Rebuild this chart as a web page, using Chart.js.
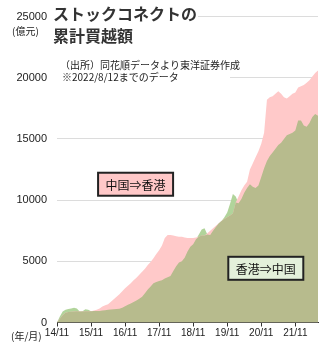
<!DOCTYPE html>
<html>
<head>
<meta charset="utf-8">
<script src="https://cdn.jsdelivr.net/npm/chart.js@4/dist/chart.umd.min.js"></script>
<style>
  html, body { margin: 0; padding: 0; background: #fff; }
  canvas { display: block; }
</style>
</head>
<body>
<canvas id="chart" width="327" height="347"></canvas>
<script>
// x = months since 2014/11, one tick per year
const xTickLabels = ["14/11", "15/11", "16/11", "17/11", "18/11", "19/11", "20/11", "21/11"];

// 中国⇒香港 (southbound), 億元, monthly
const southbound = [
  0, 300, 600, 800, 850, 880, 900, 920, 900, 900, 910, 920,
  920, 980, 1050, 1150, 1300, 1400, 1500, 1700, 1900, 2100, 2300, 2550,
  2800, 3000, 3200, 3450, 3650, 3900, 4150, 4400, 4700, 4950, 5250, 5600,
  5900, 6300, 6900, 7150, 7150, 7100, 7050, 7000, 7000, 6950, 6900, 6900,
  6900, 6950, 7000, 7100, 7100, 7300, 7500, 7700, 7900, 8100, 8300, 8450,
  8600, 8750, 8900, 9800, 10300, 10800, 11200, 11500, 12500, 13000, 13500, 14000,
  14600, 15500, 18200, 18400, 18500, 18700, 18900, 18700, 18400, 18300, 18500, 18700,
  18800, 19200, 19300, 19400, 19600, 19800, 20100, 20400, 20600
];

// 香港⇒中国 (northbound), 億元, monthly
const northbound = [
  0, 500, 900, 1050, 1100, 1150, 1200, 1150, 900, 920, 1080, 1050,
  920, 930, 930, 950, 980, 1000, 1050, 1060, 1080, 1100, 1120, 1200,
  1330, 1450, 1550, 1680, 1800, 1950, 2100, 2400, 2700, 2950, 3200, 3300,
  3400, 3450, 3600, 3700, 3800, 4200, 4600, 4900, 5000, 5300, 5800, 6200,
  6400, 6800, 7200, 7600, 7700, 7200, 7150, 7500, 7800, 8100, 8300, 8600,
  9000, 9700, 10500, 10300, 9750, 10100, 10600, 11000, 11300, 11100, 11000, 11200,
  11900, 12600, 13200, 13600, 13900, 14200, 14500, 14700, 15000, 15300, 15400, 15500,
  15700, 16500, 16500, 16100, 16000, 16300, 16800, 17050, 16900
];

// where both areas overlap the colour turns olive
const overlap = southbound.map((v, i) => Math.min(v, northbound[i]));
const toPoints = arr => arr.map((v, i) => ({ x: i, y: v }));

const jpFont = '"Noto Sans CJK JP", sans-serif';

// boxed series labels, placed in data coordinates
const labelBoxes = [
  { text: "中国⇒香港", x: 27.7, y: 11300, fill: "#ffc8c8" },
  { text: "香港⇒中国", x: 73.6, y: 4430, fill: "#e3f0da" }
];

const annotations = {
  id: "annotations",
  afterDraw(chart) {
    const ctx = chart.ctx;
    const xs = chart.scales.x, ys = chart.scales.y;
    ctx.save();

    // title and source note sit on white boxes over the grid
    ctx.fillStyle = "#fff";
    ctx.fillRect(50, 0, 148, 48);
    ctx.fillRect(55, 55, 175, 30);

    ctx.textBaseline = "middle";
    ctx.textAlign = "left";
    ctx.fillStyle = "#333";
    ctx.font = "bold 16px " + jpFont;
    ctx.fillText("ストックコネクトの", 53, 14);
    ctx.fillText("累計買越額", 53, 36);

    ctx.fillStyle = "#222";
    ctx.font = "10px " + jpFont;
    ctx.fillText("（出所）同花順データより東洋証券作成", 60, 65);
    ctx.fillText("※2022/8/12までのデータ", 62, 77);

    ctx.fillText("(億元)", 12, 31);
    ctx.fillText("(年/月)", 11, 336);

    labelBoxes.forEach(b => {
      const cx = xs.getPixelForValue(b.x);
      const cy = ys.getPixelForValue(b.y);
      const w = 75, h = 23;
      ctx.fillStyle = b.fill;
      ctx.fillRect(cx - w / 2, cy - h / 2, w, h);
      ctx.lineWidth = 2;
      ctx.strokeStyle = "#222";
      ctx.strokeRect(cx - w / 2, cy - h / 2, w, h);
      ctx.fillStyle = "#111";
      ctx.textAlign = "center";
      ctx.font = "12px " + jpFont;
      ctx.fillText(b.text, cx, cy + 1);
    });
    ctx.restore();
  }
};

new Chart(document.getElementById("chart"), {
  type: "line",
  data: {
    datasets: [
      { data: toPoints(overlap), fill: "origin", backgroundColor: "#b7bb8d" },
      { data: toPoints(southbound), fill: "origin", backgroundColor: "#ffc9c9" },
      { data: toPoints(northbound), fill: "origin", backgroundColor: "#b1d49b" }
    ]
  },
  options: {
    responsive: false,
    animation: false,
    devicePixelRatio: 1,
    layout: { padding: { top: 15, right: 9, left: 0, bottom: 0 } },
    plugins: { legend: { display: false }, tooltip: { enabled: false } },
    elements: {
      point: { radius: 0 },
      line: { borderWidth: 0, borderColor: "transparent", tension: 0 }
    },
    scales: {
      x: {
        type: "linear",
        min: 0,
        max: 92,
        grid: { drawOnChartArea: false, drawTicks: true, tickLength: 4, color: "#333" },
        border: { color: "#333", width: 1 },
        ticks: {
          stepSize: 12,
          includeBounds: false,
          autoSkip: false,
          maxRotation: 0,
          padding: 1,
          color: "#222",
          font: { family: "Liberation Sans", size: 10 },
          callback: v => xTickLabels[v / 12] ?? ""
        },
        afterFit: s => { s.height = 24.5; }
      },
      y: {
        min: 0,
        max: 25000,
        grid: { color: "#dcdcdc", drawTicks: false },
        border: { display: false },
        ticks: {
          stepSize: 5000,
          padding: 10,
          color: "#222",
          font: { family: "Liberation Sans", size: 11 },
          callback: v => String(v)
        },
        afterFit: s => { s.width = 57; }
      }
    }
  },
  plugins: [annotations]
});
</script>
</body>
</html>
